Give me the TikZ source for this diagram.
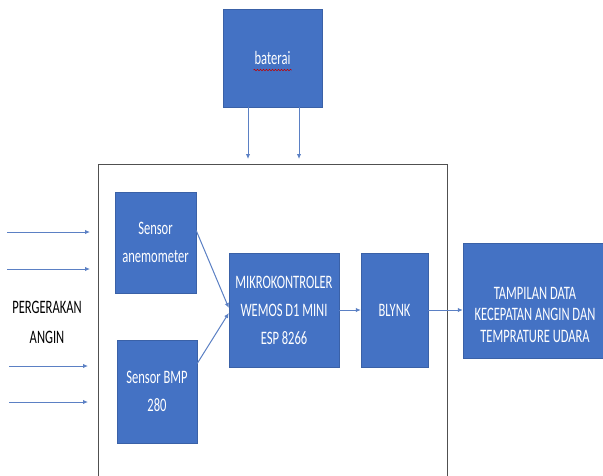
\documentclass[tikz,border=0pt]{standalone}
\usepackage{fontspec}
\setmainfont{Carlito}[FakeStretch=0.66]
\usetikzlibrary{arrows.meta,decorations.pathmorphing}
\definecolor{boxblue}{HTML}{4472C4}
\definecolor{arrblue}{HTML}{5B80C4}
\definecolor{frameg}{HTML}{505050}
\begin{document}
\begin{tikzpicture}[x=1pt,y=-1pt,
  blk/.style={fill=boxblue, draw=boxblue!85!black, line width=0.4pt, text=white,
    align=center, font=\fontsize{19}{28}\selectfont, inner sep=0pt},
  lbl/.style={align=center, inner sep=0pt},
  arr/.style={draw=arrblue, line width=1pt, -{Latex[length=5pt,width=4.5pt]}},
  frm/.style={draw=frameg, line width=1.4pt, fill=none, inner sep=0pt}]
\useasboundingbox (0,0) rectangle (603,475);
\clip (0,0) rectangle (603,475);
\fill[white] (0,0) rectangle (603,475);

% system frame
\node[frm, minimum width=349, minimum height=330, anchor=north west] (sys) at (98,164) {};

% battery
\node[blk, minimum width=99, minimum height=98] (bat) at (272.5,58) {baterai};
\draw[red!75!black, line width=0.6pt, decorate, decoration={snake, amplitude=0.7pt, segment length=3pt}]
  ([xshift=-19pt,yshift=-12pt]bat.center) -- ([xshift=19pt,yshift=-12pt]bat.center);
\coordinate (b1) at (248,159);
\coordinate (b2) at (299,159);
\draw[arr] (bat.south -| b1) -- (b1);
\draw[arr] (bat.south -| b2) -- (b2);

% sensors
\node[blk, minimum width=81, minimum height=101] (anem) at (155.5,242.5) {Sensor\\anemometer};
\node[blk, minimum width=80, minimum height=103] (bmp) at (157,391.5) {Sensor BMP\\280};

% controller, blynk, output
\node[blk, minimum width=110, minimum height=114] (mcu) at (284,310) {MIKROKONTROLER\\WEMOS D1 MINI\\ESP 8266};
\node[blk, minimum width=67, minimum height=114] (blynk) at (394.5,310) {BLYNK};
\node[blk, minimum width=142, minimum height=115] (out) at (534,300.5) {};
\node[lbl, text=white, font=\fontsize{19}{21.5}\selectfont] (outtxt) at (535,314.5)
  {TAMPILAN DATA\\KECEPATAN ANGIN DAN\\TEMPRATURE UDARA};

% wind input
\node[lbl, font=\fontsize{19}{30}\selectfont] (wind) at (47,322) {PERGERAKAN\\ANGIN};
\coordinate (w1s) at (7,232);  \coordinate (w1e) at (90,232);
\coordinate (w2s) at (7,269);  \coordinate (w2e) at (90,269);
\coordinate (w3s) at (9,366);  \coordinate (w3e) at (88,366);
\coordinate (w4s) at (9,402);  \coordinate (w4e) at (88,402);
\draw[arr] (w1s) -- (w1e);
\draw[arr] (w2s) -- (w2e);
\draw[arr] (w3s) -- (w3e);
\draw[arr] (w4s) -- (w4e);

% connectors
\draw[arr] ([yshift=12pt]anem.east) -- ([yshift=2pt]mcu.west);
\draw[arr] ([yshift=28pt]bmp.east) -- ([yshift=-3pt]mcu.west);
\draw[arr] (mcu.east) -- (blynk.west);
\draw[arr] (blynk.east) -- (blynk.east -| out.west);
\end{tikzpicture}
\end{document}
